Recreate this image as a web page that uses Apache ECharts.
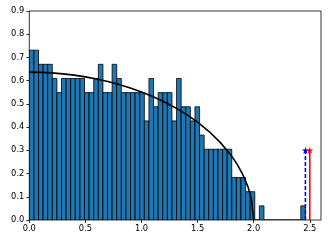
<!DOCTYPE html>
<html><head><meta charset="utf-8">
<script src="https://cdn.jsdelivr.net/npm/echarts@6/dist/echarts.min.js"></script>
<style>html,body{margin:0;padding:0;background:#fff}#c{width:332px;height:244px}</style>
</head><body><div id="c"></div>
<script>
// histogram counts (60 equal bins from 0 to the largest value)
const counts = [12,12,11,11,11,10,9,10,10,10,10,10,
                9,9,10,11,9,9,11,10,
                9,9,9,9,9,
                7,10,8,9,9,
                9,7,10,8,8,
                7,8,6,5,5,
                5,5,5,5,3,
                3,3,2,2,0,
                1,0,0,0,0,
                0,0,0,0,1];
const sampleSize = 400;
const histMin = 0.0;
const histMax = 2.461;          // largest value (blue dashed line)
const predicted = 2.5;          // red line
const markerY = 0.3;
// reference density curve
const curveX = [0,0.1,0.2,0.3,0.4,0.5,0.6,0.7,0.8,0.9,1.0,1.1,1.2,1.3,1.4,1.5,1.6,1.7,1.8,1.85,1.9,1.95,1.98,2.0];
const curveY = [0.6366,0.6358,0.6334,0.6294,0.6238,0.6164,0.6073,0.5964,0.5835,0.5685,0.5513,0.5317,0.5093,0.4838,0.4546,0.4211,0.3820,0.3354,0.2775,0.2419,0.1988,0.1415,0.0898,0];
const xTicks = [0,0.5,1.0,1.5,2.0,2.5];

const binW = (histMax - histMin) / counts.length;
const barData = counts.map((c, i) => [histMin + i * binW, histMin + (i + 1) * binW, c / (sampleSize * binW)]);
const curveData = curveX.map((x, i) => [x, curveY[i]]);
const star = 'path://M0,-10L2.245,-3.09L9.511,-3.09L3.633,1.18L5.878,8.09L0,3.82L-5.878,8.09L-3.633,1.18L-9.511,-3.09L-2.245,-3.09Z';

const chart = echarts.init(document.getElementById('c'), null, {renderer: 'canvas'});
const labelStyle = {color: '#000', fontFamily: 'DejaVu Sans', fontSize: 8.3};
chart.setOption({
  animation: false,
  grid: {left: 29.3, right: 11, top: 11, bottom: 24, containLabel: false, outerBoundsMode: 'none',
         show: true, borderColor: '#000', borderWidth: 0.8, backgroundColor: 'transparent'},
  xAxis: {type: 'value', min: 0, max: 2.6, interval: 0.5,
    axisLine: {show: false},
    splitLine: {show: false},
    axisTick: {show: true, length: 3, lineStyle: {color: '#000', width: 0.8}, customValues: xTicks},
    axisLabel: Object.assign({margin: 5, formatter: v => v.toFixed(1), customValues: xTicks}, labelStyle)
  },
  yAxis: {type: 'value', min: 0, max: 0.9, interval: 0.1,
    axisLine: {show: false},
    splitLine: {show: false},
    axisTick: {show: true, length: 3, lineStyle: {color: '#000', width: 0.8}},
    axisLabel: Object.assign({margin: 5, formatter: v => v.toFixed(1)}, labelStyle)
  },
  series: [
    {type: 'custom', data: barData, clip: true,
      renderItem: function (params, api) {
        const p0 = api.coord([api.value(0), 0]);
        const p1 = api.coord([api.value(1), api.value(2)]);
        return {type: 'rect', shape: {x: p0[0], y: p1[1], width: p1[0] - p0[0], height: p0[1] - p1[1]},
          style: {fill: '#1f77b4', stroke: '#000', lineWidth: 0.8}};
      }, z: 2},
    {type: 'line', data: curveData, smooth: false, showSymbol: false, symbol: 'none',
      lineStyle: {color: '#000', width: 1.6}, z: 3},
    {type: 'line', data: [{value: [histMax, 0], symbol: 'none'}, {value: [histMax, markerY], symbol: star}],
      symbolSize: 7, showSymbol: true, showAllSymbol: true,
      lineStyle: {color: '#0000ff', width: 1.6, type: [4, 2]},
      itemStyle: {color: '#0000ff', borderWidth: 0}, z: 4},
    {type: 'line', data: [{value: [predicted, 0], symbol: 'none'}, {value: [predicted, markerY], symbol: star}],
      symbolSize: 7, showSymbol: true, showAllSymbol: true,
      lineStyle: {color: '#ff0000', width: 1.6},
      itemStyle: {color: '#ff0000', borderWidth: 0}, z: 5}
  ]
});
</script></body></html>
